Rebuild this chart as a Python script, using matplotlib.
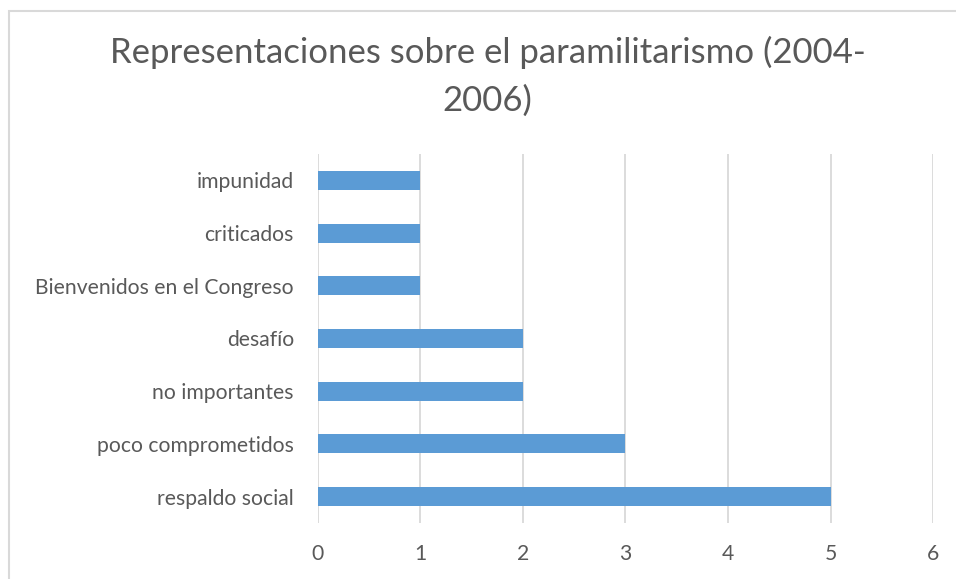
import matplotlib
matplotlib.use("Agg")
import matplotlib.pyplot as plt
from matplotlib.patches import Rectangle

categories = ["respaldo social", "poco comprometidos", "no importantes", "desafío",
              "Bienvenidos en el Congreso", "criticados", "impunidad"]
values = [5, 3, 2, 2, 1, 1, 1]
xticks = [0, 1, 2, 3, 4, 5, 6]
title = "Representaciones sobre el paramilitarismo (2004-\n2006)"

W, H = 956, 579
fig = plt.figure(figsize=(W / 100, H / 100), dpi=100)
plt.rcParams['font.family'] = ['Lato', 'DejaVu Sans']
txt = '#595959'

# chart frame
fig.patches.append(Rectangle((8.5 / W, -0.05), 1.2, (H - 10.5) / H + 0.05,
                             transform=fig.transFigure, fill=False,
                             edgecolor='#d9d9d9', linewidth=1.5))

ax = fig.add_axes([317.6 / W, 1 - 523 / H, (933.3 - 317.6) / W, (523 - 154) / H])
y = list(range(len(categories)))
ax.barh(y, values, height=0.36, color='#5B9BD5', zorder=3)
ax.set_xlim(0, 6)
ax.set_ylim(-0.5, len(categories) - 0.5)
ax.set_xticks(xticks)
ax.set_xticklabels([str(t) for t in xticks])
ax.set_yticks(y)
ax.set_yticklabels(categories)
for s in ax.spines.values():
    s.set_visible(False)
ax.xaxis.grid(True, color='#d9d9d9', linewidth=1.3, zorder=0)
ax.tick_params(axis='both', length=0, labelsize=15.2, colors=txt)
ax.tick_params(axis='x', pad=15)
ax.tick_params(axis='y', pad=17)

fig.text(487.5 / W, 1 - 110.7 / H, title,
         ha='center', va='baseline', fontsize=25, color=txt, linespacing=1.58,
         multialignment='center')

fig.savefig("out.png", dpi=100)
